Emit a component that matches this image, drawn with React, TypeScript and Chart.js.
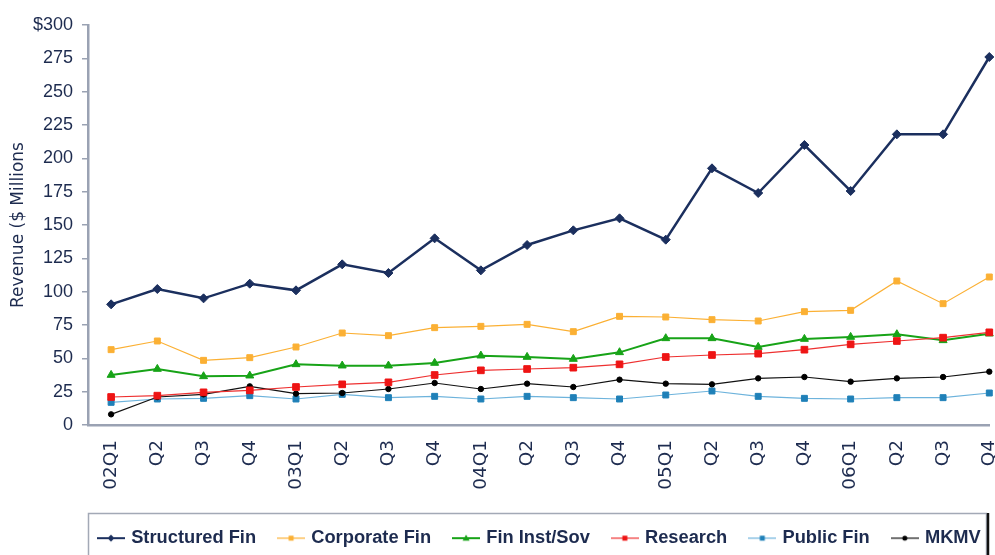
import React, { useEffect, useRef } from 'react';
import { Chart, registerables } from 'chart.js';

Chart.register(...registerables);

const quarters = ['02Q1', 'Q2', 'Q3', 'Q4', '03Q1', 'Q2', 'Q3', 'Q4', '04Q1', 'Q2', 'Q3', 'Q4', '05Q1', 'Q2', 'Q3', 'Q4', '06Q1', 'Q2', 'Q3', 'Q4'];
const structuredFin = [90.5, 102, 95, 106, 101, 120.5, 114, 140, 116, 135, 146, 155, 139, 192.5, 174, 210, 175.5, 218, 218, 276];
const corporateFin = [56.5, 63, 48.5, 50.5, 58.5, 69, 67, 73, 74, 75.5, 70, 81.5, 81, 79, 78, 85, 86, 108, 91, 111];
const finInstSov = [37.5, 42, 36.5, 37, 45.5, 44.5, 44.5, 46.5, 52, 51, 49.5, 54.5, 65, 65, 58.5, 64.5, 66, 68, 63.5, 68.5];
const research = [21, 22, 24.5, 26, 28.5, 30.5, 32, 37.5, 41, 42, 43, 45.5, 51, 52.5, 53.5, 56.5, 60.5, 63, 65.5, 69.5];
const publicFin = [17, 19.5, 20, 22, 19.5, 23, 20.5, 21.5, 19.5, 21.5, 20.5, 19.5, 22.5, 25.5, 21.5, 20, 19.5, 20.5, 20.5, 24];
const mkmv = [8, 21, 23, 29, 23.5, 24, 27, 31.5, 27, 31, 28.5, 34, 31, 30.5, 35, 36, 32.5, 35, 36, 40];

const seriesNames = ['Structured Fin', 'Corporate Fin', 'Fin Inst/Sov', 'Research', 'Public Fin', 'MKMV'];
const yMin = 0;
const yMax = 300;
const yStep = 25;

const TEXT = '#1d2b4f';
const AXIS = '#9aa2b3';

function makeIcon(lineColor: string, lineWidth: number, fill: string, shape: string) {
  const c = document.createElement('canvas');
  c.width = 28;
  c.height = 12;
  const ctx = c.getContext('2d')!;
  ctx.strokeStyle = lineColor;
  ctx.lineWidth = lineWidth;
  ctx.beginPath();
  ctx.moveTo(0, 6);
  ctx.lineTo(28, 6);
  ctx.stroke();
  ctx.fillStyle = fill;
  ctx.beginPath();
  if (shape === 'diamond') {
    ctx.moveTo(14, 2.5); ctx.lineTo(17.5, 6); ctx.lineTo(14, 9.5); ctx.lineTo(10.5, 6); ctx.closePath();
  } else if (shape === 'square') {
    ctx.rect(11.5, 3.5, 5, 5);
  } else if (shape === 'triangle') {
    ctx.moveTo(14, 2.5); ctx.lineTo(17.5, 8.5); ctx.lineTo(10.5, 8.5); ctx.closePath();
  } else {
    ctx.arc(14, 6, 2.5, 0, Math.PI * 2);
  }
  ctx.fill();
  return c;
}

export default function App() {
  const ref = useRef<HTMLCanvasElement | null>(null);

  useEffect(() => {
    if (!ref.current) return;
    const toXY = (arr: number[]) => arr.map((v, i) => ({ x: i, y: v }));

    const styles = [
      { line: '#1b2f5e', fill: '#1b2f5e', w: 2.5, ps: 'rectRot', r: 4.5, icon: 'diamond', order: 0 },
      { line: '#fbb034', fill: '#fbb034', w: 1.2, ps: 'rect', r: 4.2, icon: 'square', order: 1 },
      { line: '#17a317', fill: '#17a317', w: 2, ps: 'triangle', r: 4.6, icon: 'triangle', order: 3 },
      { line: '#ee3030', fill: '#ee1414', w: 1.2, ps: 'rect', r: 4.7, icon: 'square', order: 2 },
      { line: '#6db3dc', fill: '#1f80b8', w: 1.2, ps: 'rect', r: 4.2, icon: 'square', order: 5 },
      { line: '#111111', fill: '#000000', w: 1.2, ps: 'circle', r: 2.7, icon: 'circle', order: 4 },
    ];
    const values = [structuredFin, corporateFin, finInstSov, research, publicFin, mkmv];
    const icons = styles.map((s) => makeIcon(s.line, Math.min(s.w, 2), s.fill, s.icon));

    const legendPad = 24;

    const framePlugin = {
      id: 'legendFrame',
      afterLayout(chart: any) {
        const lg = chart.legend;
        if (!lg || !lg.lineWidths) return;
        const cursorX = (lg.left + legendPad + lg.right - lg.lineWidths[0]) / 2;
        const dx = 100 - cursorX;
        lg.left += dx;
        lg.right += dx;
        const dy = 505 - lg.top;
        lg.top += dy;
        lg.bottom += dy;
      },
      beforeDraw(chart: any) {
        const ctx = chart.ctx;
        ctx.save();
        ctx.fillStyle = '#ffffff';
        ctx.fillRect(0, 0, chart.width, chart.height);
        ctx.strokeStyle = '#a3a9b6';
        ctx.lineWidth = 1.5;
        ctx.strokeRect(88.5, 513.5, 898, 60);
        ctx.strokeStyle = '#111111';
        ctx.lineWidth = 2.5;
        ctx.beginPath();
        ctx.moveTo(988, 513);
        ctx.lineTo(988, 556);
        ctx.stroke();
        ctx.restore();
      },
    };

    const chart = new Chart(ref.current, {
      type: 'line',
      data: {
        datasets: values.map((arr, i) => ({
          label: seriesNames[i],
          data: toXY(arr),
          borderColor: styles[i].line,
          backgroundColor: styles[i].fill,
          borderWidth: styles[i].w,
          pointStyle: styles[i].ps,
          pointRadius: styles[i].r,
          pointBackgroundColor: styles[i].fill,
          pointBorderColor: styles[i].fill,
          pointBorderWidth: 1,
          tension: 0,
          clip: false,
          order: styles[i].order,
        })),
      },
      plugins: [framePlugin],
      options: {
        animation: false,
        responsive: false,
        devicePixelRatio: 1,
        events: [],
        layout: { padding: { top: 25, right: 5, left: 0, bottom: 0 } },
        plugins: {
          tooltip: { enabled: false },
          legend: {
            position: 'bottom',
            labels: {
              usePointStyle: true,
              pointStyleWidth: 22,
              boxHeight: 12,
              padding: legendPad,
              color: TEXT,
              font: { family: "'Liberation Sans', Arial, sans-serif", size: 18.3, weight: 'bold' },
              generateLabels: (ch: any) =>
                ch.data.datasets.map((ds: any, i: number) => ({
                  text: ds.label,
                  pointStyle: icons[i],
                  datasetIndex: i,
                  hidden: false,
                  lineWidth: 0,
                  strokeStyle: 'rgba(0,0,0,0)',
                  fillStyle: 'rgba(0,0,0,0)',
                  fontColor: TEXT,
                })),
            },
          },
        },
        scales: {
          x: {
            type: 'linear',
            min: -0.5,
            max: quarters.length - 1,
            grid: { display: false, drawTicks: false },
            border: { display: true, color: AXIS, width: 2.5 },
            ticks: {
              stepSize: 1,
              includeBounds: false,
              autoSkip: false,
              maxRotation: 90,
              minRotation: 90,
              padding: 15,
              color: TEXT,
              font: { family: "'DejaVu Sans', sans-serif", size: 18.5 },
              callback: (v: any) => (Number.isInteger(v) && quarters[v] !== undefined ? quarters[v] : ''),
            },
            afterFit: (s: any) => {
              const lh = s.chart.legend ? s.chart.legend.height : 0;
              s.height = 555 - 425 - lh;
              s.paddingLeft = 0;
              s.paddingRight = 0;
            },
          },
          y: {
            min: yMin,
            max: yMax,
            grid: { drawOnChartArea: false, drawTicks: true, tickLength: 6, color: AXIS, lineWidth: 1.5 },
            border: { display: true, color: AXIS, width: 2.5 },
            ticks: {
              stepSize: yStep,
              padding: 9,
              color: TEXT,
              font: { family: "'Liberation Sans', Arial, sans-serif", size: 18 },
              callback: (v: any) => (v === yMax ? '$' + v : String(v)),
            },
            title: {
              display: true,
              text: 'Revenue ($ Millions',
              color: TEXT,
              font: { family: "'DejaVu Sans', sans-serif", size: 17 },
              padding: { top: 8, bottom: 0 },
            },
            afterFit: (s: any) => {
              s.width = 88;
            },
          },
        },
      } as any,
    });
    return () => chart.destroy();
  }, []);

  return (
    <div style={{ position: 'absolute', left: 0, top: 0, width: 995, height: 555, background: '#fff' }}>
      <canvas ref={ref} width={995} height={555} style={{ display: 'block', width: 995, height: 555 }} />
    </div>
  );
}
